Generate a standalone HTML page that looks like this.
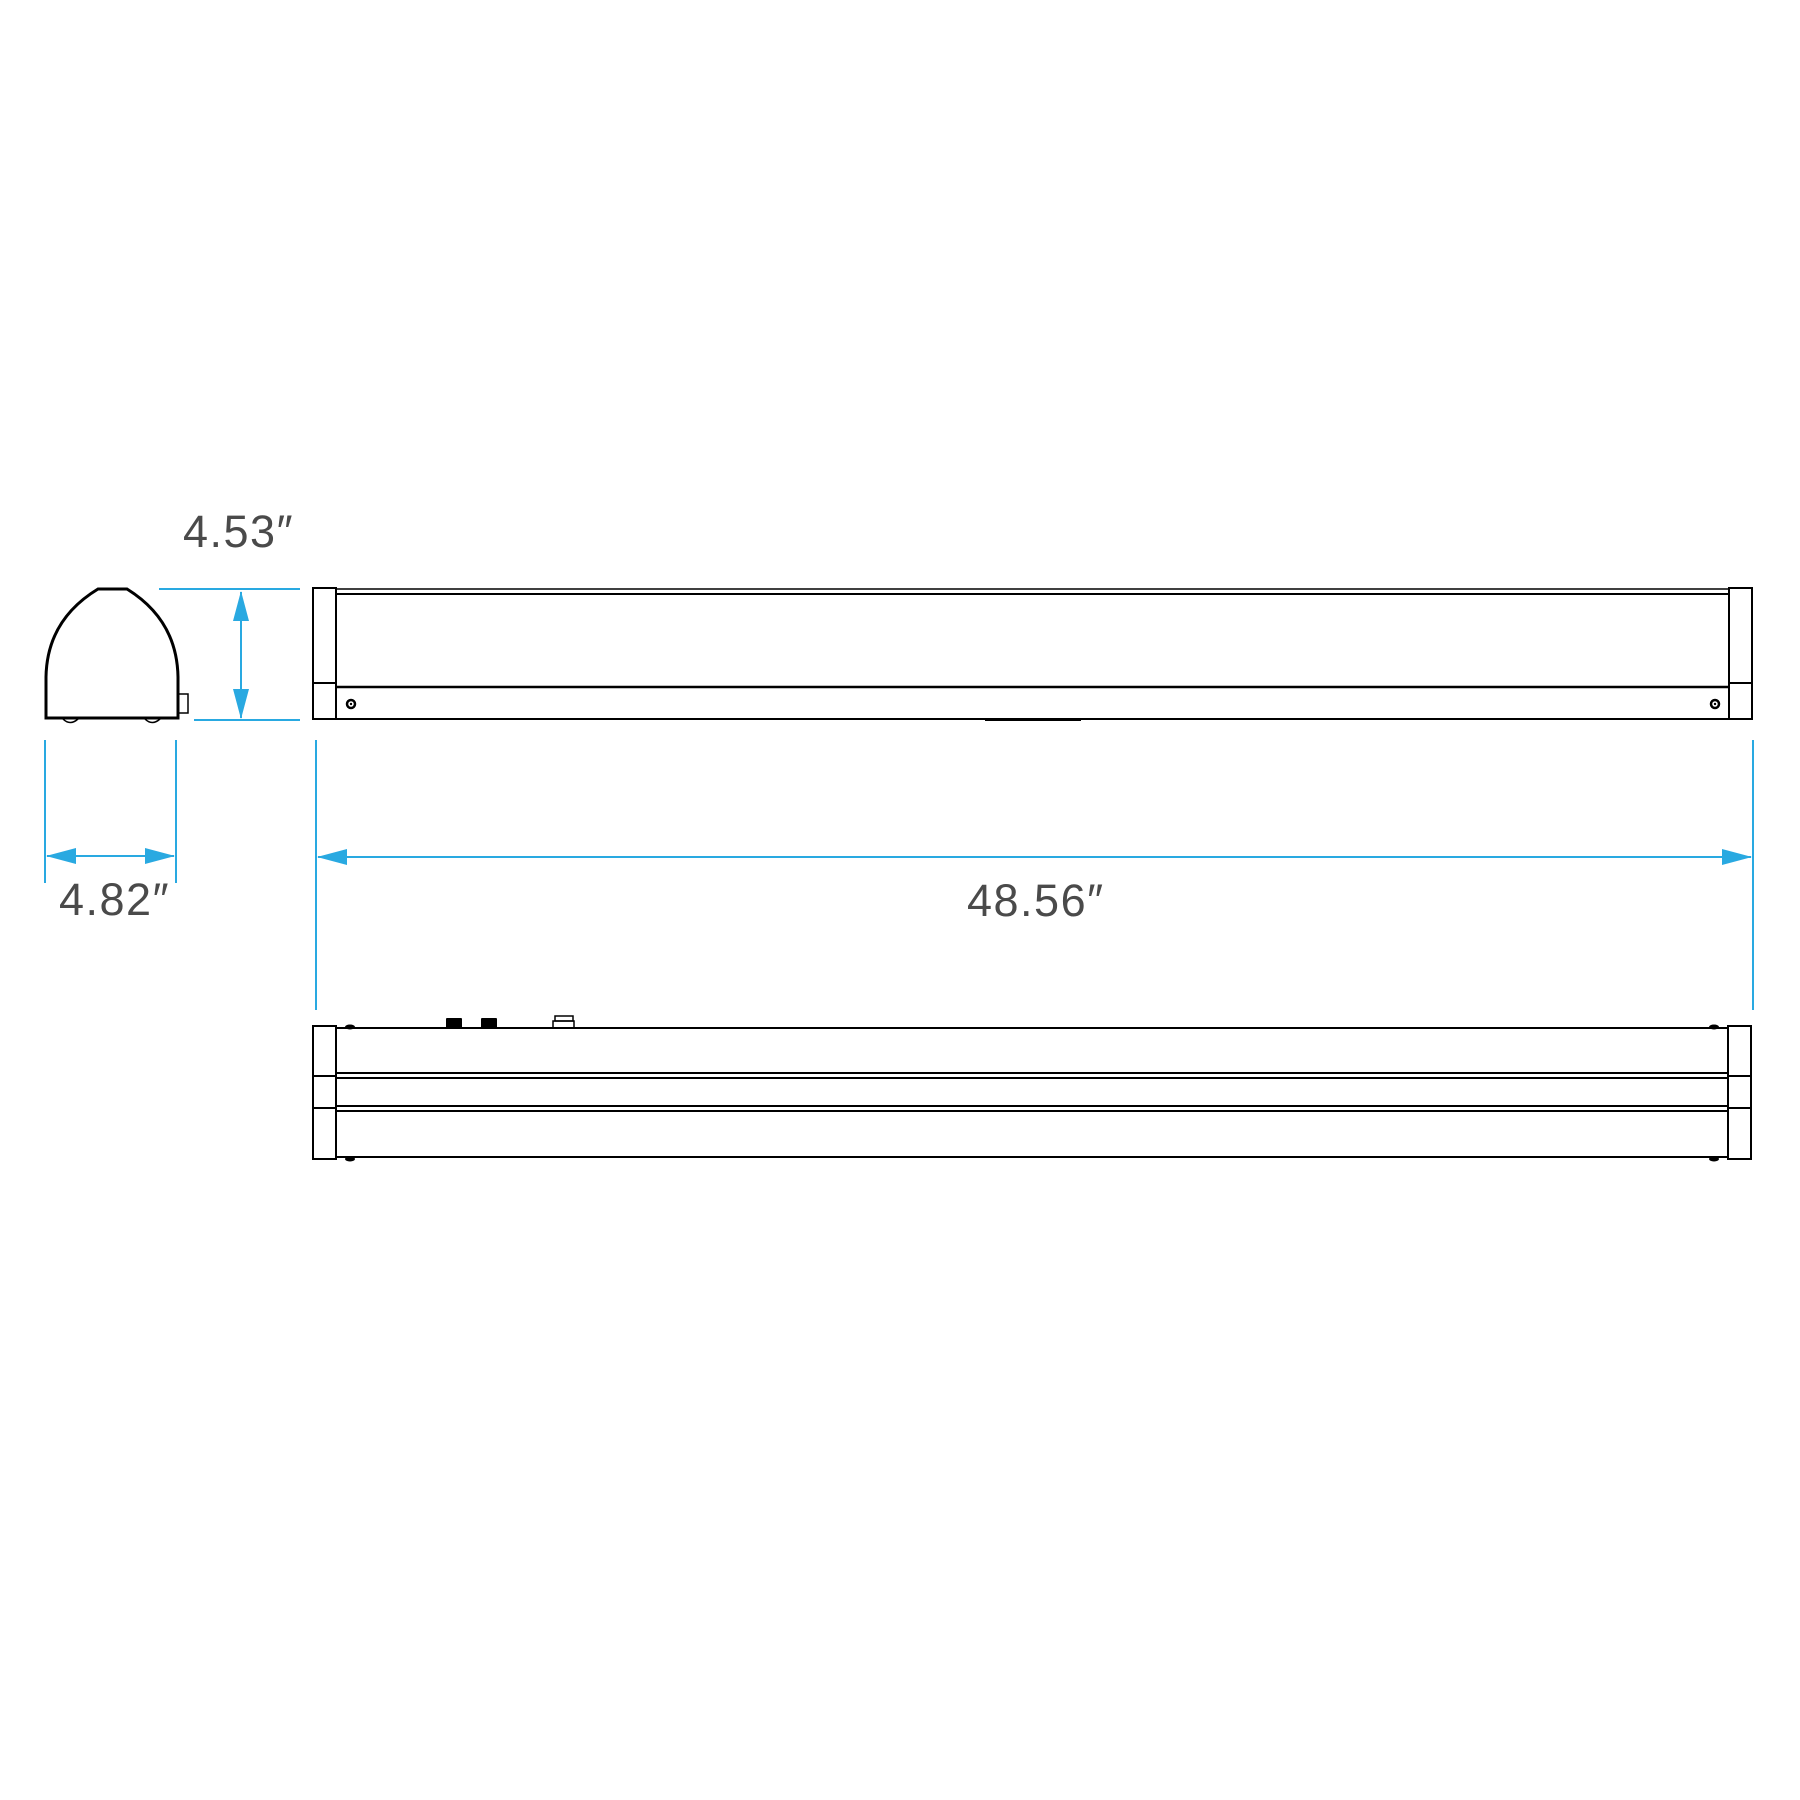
<!DOCTYPE html>
<html><head><meta charset="utf-8"><style>html,body{margin:0;padding:0;background:#fff}svg{display:block}</style></head>
<body>
<svg width="1800" height="1800" viewBox="0 0 1800 1800" xmlns="http://www.w3.org/2000/svg">
<defs>
<marker id="ah" markerWidth="30" markerHeight="16" refX="29" refY="8" orient="auto-start-reverse" markerUnits="userSpaceOnUse">
<path d="M0,0 L30,8 L0,16 Z" fill="#29a9e1"/>
</marker>
</defs>
<g fill="none" stroke="#000" stroke-width="2">
<path d="M98,589 L127,589 Q177,620 178,677 L178,718 L46,718 L46,677 Q47,620 98,589 Z" stroke-width="3"/>
<rect x="178" y="694" width="10" height="19" stroke-width="1.5"/>
<path d="M63,719 Q70,726 78,719" stroke-width="1.5"/>
<path d="M145,719 Q152,726 160,719" stroke-width="1.5"/>
<rect x="313" y="588" width="23" height="131"/>
<line x1="313" y1="683" x2="336" y2="683"/>
<rect x="1729" y="588" width="23" height="131"/>
<line x1="1729" y1="683" x2="1752" y2="683"/>
<line x1="336" y1="589" x2="1729" y2="589" stroke-width="1.5"/>
<line x1="336" y1="594" x2="1729" y2="594"/>
<line x1="336" y1="687" x2="1729" y2="687" stroke-width="2.5"/>
<line x1="336" y1="719" x2="1729" y2="719"/>
<line x1="985" y1="720" x2="1081" y2="720" stroke-width="2"/>
<circle cx="351" cy="704" r="4" stroke-width="2.5"/>
<circle cx="1715" cy="704" r="4" stroke-width="2.5"/>
<rect x="313" y="1026" width="23" height="133"/>
<line x1="313" y1="1076" x2="336" y2="1076"/>
<line x1="313" y1="1108" x2="336" y2="1108"/>
<rect x="1728" y="1026" width="23" height="133"/>
<line x1="1728" y1="1076" x2="1751" y2="1076"/>
<line x1="1728" y1="1108" x2="1751" y2="1108"/>
<line x1="336" y1="1028" x2="1728" y2="1028"/>
<line x1="336" y1="1073" x2="1728" y2="1073"/>
<line x1="336" y1="1078" x2="1728" y2="1078"/>
<line x1="336" y1="1106" x2="1728" y2="1106"/>
<line x1="336" y1="1111" x2="1728" y2="1111"/>
<line x1="336" y1="1157" x2="1728" y2="1157"/>
<rect x="553" y="1021" width="21" height="7" stroke-width="1.5"/>
<rect x="555" y="1016" width="18" height="5" stroke-width="1.5"/>
</g>
<g fill="#000">
<rect x="446" y="1018" width="16" height="10" rx="1"/>
<rect x="481" y="1018" width="16" height="10" rx="1"/>
<ellipse cx="350" cy="1027" rx="5" ry="2.5"/>
<ellipse cx="350" cy="1159" rx="5" ry="2.5"/>
<ellipse cx="1714" cy="1027" rx="5" ry="2.5"/>
<ellipse cx="1714" cy="1159" rx="5" ry="2.5"/>
<circle cx="351" cy="704" r="1.2"/>
<circle cx="1715" cy="704" r="1.2"/>
</g>
<g stroke="#29a9e1" stroke-width="2" fill="none">
<line x1="159" y1="589" x2="300" y2="589"/>
<line x1="194" y1="720" x2="300" y2="720"/>
<line x1="241" y1="592" x2="241" y2="718" marker-start="url(#ah)" marker-end="url(#ah)"/>
<line x1="45" y1="740" x2="45" y2="883"/>
<line x1="176" y1="740" x2="176" y2="883"/>
<line x1="47" y1="856" x2="174" y2="856" marker-start="url(#ah)" marker-end="url(#ah)"/>
<line x1="316" y1="740" x2="316" y2="1010"/>
<line x1="1753" y1="740" x2="1753" y2="1010"/>
<line x1="318" y1="857" x2="1751" y2="857" marker-start="url(#ah)" marker-end="url(#ah)"/>
</g>
<g font-family="Liberation Sans, sans-serif" font-size="45" fill="#4a4a4a" letter-spacing="1.5">
<text x="183" y="547">4.53″</text>
<text x="59" y="915">4.82″</text>
<text x="967" y="916">48.56″</text>
</g>
</svg>
</body></html>
